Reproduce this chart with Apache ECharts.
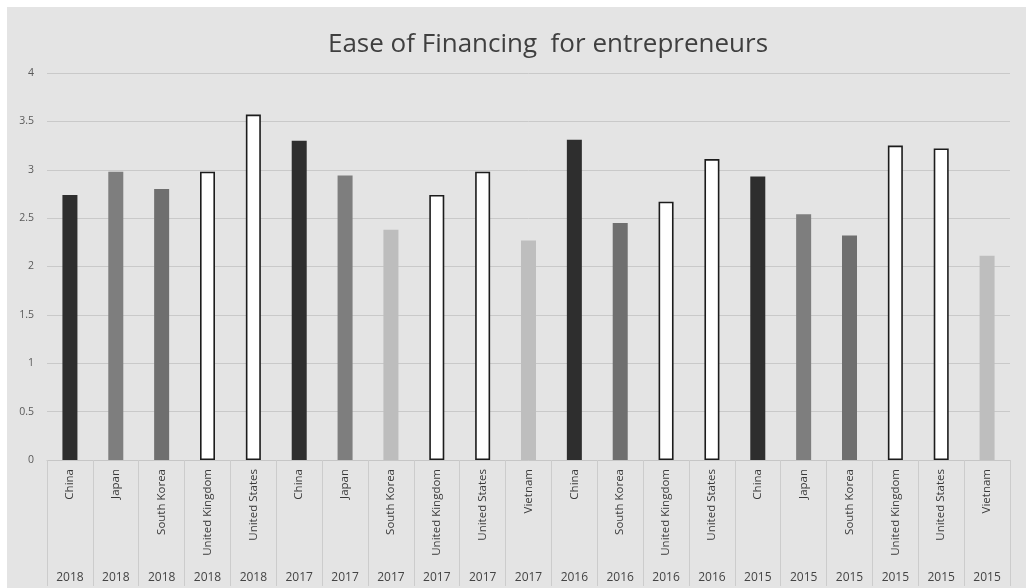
<!DOCTYPE html>
<html>
<head>
<meta charset="utf-8">
<script src="https://cdn.jsdelivr.net/npm/echarts@6/dist/echarts.min.js"></script>
<style>
  html, body { margin: 0; padding: 0; background: #ffffff; }
  #wrap { position: relative; width: 1026px; height: 588px; background: #ffffff; overflow: hidden; }
  #chart { position: absolute; left: 7px; top: 7px; width: 1019px; height: 581px; background: #e4e4e4; }
</style>
</head>
<body>
<div id="wrap"><div id="chart"></div></div>
<script>
// Survey scores: ease of financing for entrepreneurs, by country and year
const countries = [
  'China', 'Japan', 'South Korea', 'United Kingdom', 'United States',
  'China', 'Japan', 'South Korea', 'United Kingdom', 'United States', 'Vietnam',
  'China', 'South Korea', 'United Kingdom', 'United States',
  'China', 'Japan', 'South Korea', 'United Kingdom', 'United States', 'Vietnam'
];
const years = [
  '2018', '2018', '2018', '2018', '2018',
  '2017', '2017', '2017', '2017', '2017', '2017',
  '2016', '2016', '2016', '2016',
  '2015', '2015', '2015', '2015', '2015', '2015'
];
const scores = [
  2.74, 2.98, 2.80, 2.98, 3.57,
  3.30, 2.94, 2.38, 2.74, 2.98, 2.27,
  3.31, 2.45, 2.67, 3.11,
  2.93, 2.54, 2.32, 3.25, 3.22, 2.11
];
const yTicks = [0, 0.5, 1, 1.5, 2, 2.5, 3, 3.5, 4];

// Bar fills per country; UK and US are outlined white bars
const fills = {
  'China': '#2e2e2e',
  'Japan': '#7e7e7e',
  'South Korea': '#6f6f6f',
  'Vietnam': '#bebebe'
};
function barStyle(i) {
  const c = countries[i];
  if (c === 'United Kingdom' || c === 'United States') {
    return { color: '#ffffff', borderColor: '#1c1c1c', borderWidth: 1.6 };
  }
  if (c === 'South Korea' && years[i] === '2017') {
    return { color: '#bdbdbd' };
  }
  return { color: fills[c] };
}

const chart = echarts.init(document.getElementById('chart'), null, { renderer: 'canvas' });
const font = "'Open Sans', 'Liberation Sans', sans-serif";

chart.setOption({
  animation: false,
  backgroundColor: 'transparent',
  title: {
    text: 'Ease of Financing  for entrepreneurs',
    left: 536,
    textAlign: 'center',
    top: 20,
    textStyle: { fontFamily: font, fontSize: 26, fontWeight: 'normal', color: '#3f3f3f' }
  },
  grid: { left: 40, right: 16, top: 66, bottom: 128, containLabel: false },
  xAxis: [
    {
      type: 'category',
      data: countries,
      position: 'bottom',
      boundaryGap: true,
      axisLine: { show: true, lineStyle: { color: '#c6c6c6', width: 1 } },
      axisTick: { show: true, interval: 0, length: 126, lineStyle: { color: '#cccccc', width: 1 } },
      axisLabel: {
        interval: 0, rotate: 90, margin: 9,
        fontFamily: font, fontSize: 11.5, color: '#3a3a3a'
      },
      splitLine: { show: false }
    },
    {
      type: 'category',
      data: years,
      position: 'bottom',
      boundaryGap: true,
      axisLine: { show: false },
      axisTick: { show: false },
      axisLabel: {
        interval: 0, margin: 112,
        fontFamily: font, fontSize: 12, color: '#444444'
      },
      splitLine: { show: false }
    }
  ],
  yAxis: {
    type: 'value',
    min: yTicks[0],
    max: yTicks[yTicks.length - 1],
    interval: 0.5,
    axisLine: { show: false },
    axisTick: { show: false },
    axisLabel: {
      margin: 13,
      fontFamily: font, fontSize: 10.5, color: '#5a5a5a',
      formatter: v => String(v)
    },
    splitLine: { show: true, lineStyle: { color: '#c9c9c9', width: 1 } }
  },
  series: [
    {
      type: 'bar',
      xAxisIndex: 0,
      barWidth: 15,
      data: scores.map((v, i) => ({ value: v, itemStyle: barStyle(i) }))
    }
  ]
});
</script>
</body>
</html>
